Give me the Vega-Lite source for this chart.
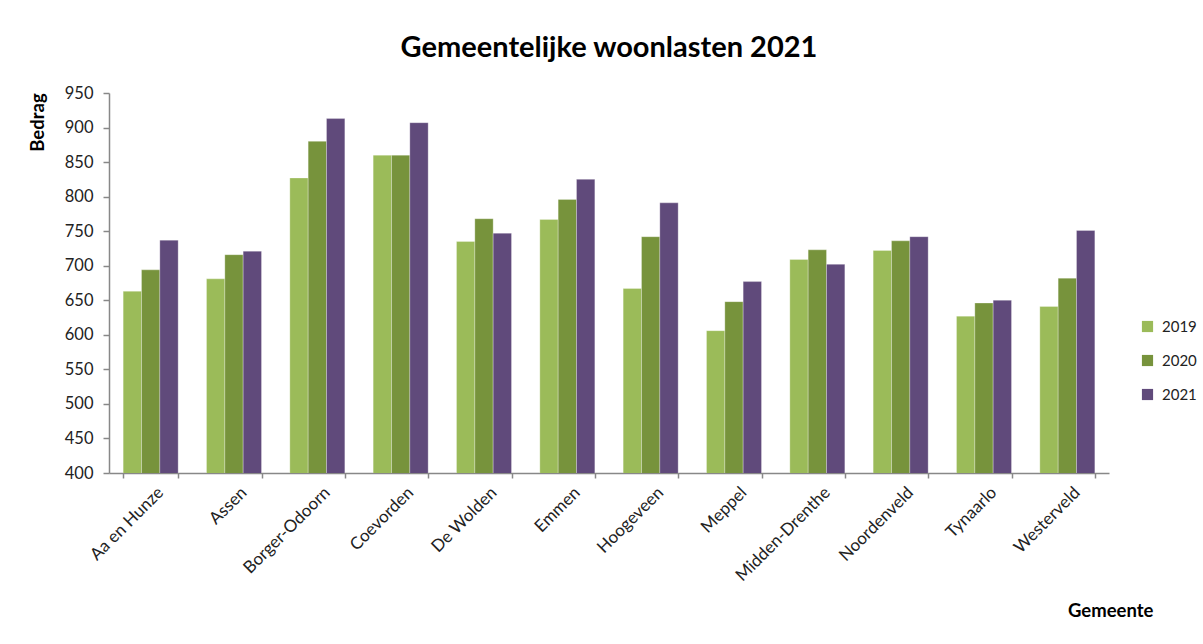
{
  "$schema": "https://vega.github.io/schema/vega-lite/v6.json",
  "autosize": "none",
  "width": 1000,
  "height": 380,
  "padding": {"left": 109, "top": 93, "right": 94, "bottom": 171},
  "background": "white",
  "title": {
    "text": "Gemeentelijke woonlasten 2021",
    "font": "Lato",
    "fontSize": 29,
    "fontWeight": "bold",
    "color": "#000000",
    "anchor": "middle",
    "offset": 22
  },
  "data": {
    "values": [
      {"gemeente": "Aa en Hunze", "jaar": "2019", "bedrag": 663},
      {"gemeente": "Aa en Hunze", "jaar": "2020", "bedrag": 694},
      {"gemeente": "Aa en Hunze", "jaar": "2021", "bedrag": 737},
      {"gemeente": "Assen", "jaar": "2019", "bedrag": 681},
      {"gemeente": "Assen", "jaar": "2020", "bedrag": 716},
      {"gemeente": "Assen", "jaar": "2021", "bedrag": 721},
      {"gemeente": "Borger-Odoorn", "jaar": "2019", "bedrag": 827},
      {"gemeente": "Borger-Odoorn", "jaar": "2020", "bedrag": 880},
      {"gemeente": "Borger-Odoorn", "jaar": "2021", "bedrag": 913},
      {"gemeente": "Coevorden", "jaar": "2019", "bedrag": 860},
      {"gemeente": "Coevorden", "jaar": "2020", "bedrag": 860},
      {"gemeente": "Coevorden", "jaar": "2021", "bedrag": 907},
      {"gemeente": "De Wolden", "jaar": "2019", "bedrag": 735},
      {"gemeente": "De Wolden", "jaar": "2020", "bedrag": 768},
      {"gemeente": "De Wolden", "jaar": "2021", "bedrag": 747},
      {"gemeente": "Emmen", "jaar": "2019", "bedrag": 767},
      {"gemeente": "Emmen", "jaar": "2020", "bedrag": 796},
      {"gemeente": "Emmen", "jaar": "2021", "bedrag": 825},
      {"gemeente": "Hoogeveen", "jaar": "2019", "bedrag": 667},
      {"gemeente": "Hoogeveen", "jaar": "2020", "bedrag": 742},
      {"gemeente": "Hoogeveen", "jaar": "2021", "bedrag": 791},
      {"gemeente": "Meppel", "jaar": "2019", "bedrag": 606},
      {"gemeente": "Meppel", "jaar": "2020", "bedrag": 648},
      {"gemeente": "Meppel", "jaar": "2021", "bedrag": 677},
      {"gemeente": "Midden-Drenthe", "jaar": "2019", "bedrag": 709},
      {"gemeente": "Midden-Drenthe", "jaar": "2020", "bedrag": 723},
      {"gemeente": "Midden-Drenthe", "jaar": "2021", "bedrag": 702},
      {"gemeente": "Noordenveld", "jaar": "2019", "bedrag": 722},
      {"gemeente": "Noordenveld", "jaar": "2020", "bedrag": 736},
      {"gemeente": "Noordenveld", "jaar": "2021", "bedrag": 742},
      {"gemeente": "Tynaarlo", "jaar": "2019", "bedrag": 627},
      {"gemeente": "Tynaarlo", "jaar": "2020", "bedrag": 646},
      {"gemeente": "Tynaarlo", "jaar": "2021", "bedrag": 650},
      {"gemeente": "Westerveld", "jaar": "2019", "bedrag": 641},
      {"gemeente": "Westerveld", "jaar": "2020", "bedrag": 682},
      {"gemeente": "Westerveld", "jaar": "2021", "bedrag": 751}
    ]
  },
  "mark": {"type": "bar", "clip": true, "stroke": "#ffffff", "strokeOpacity": 0.35, "strokeWidth": 0.8},
  "encoding": {
    "x": {
      "field": "gemeente",
      "type": "nominal",
      "sort": null,
      "scale": {"paddingInner": 0.34, "paddingOuter": 0.17},
      "axis": {
        "title": "Gemeente",
        "titleFont": "Lato",
        "titleFontSize": 18.5,
        "titleFontWeight": "bold",
        "titleColor": "#000000",
        "titleAlign": "right",
        "titleAnchor": null,
        "titleX": 1044,
        "titleY": 143,
        "titleBaseline": "alphabetic",
        "labelAngle": -45,
        "labelFont": "Lato",
        "labelFontSize": 17,
        "labelColor": "#222222",
        "labelPadding": 6,
        "labelOffset": 4,
        "domainColor": "#888888",
        "domainWidth": 1.5,
        "ticks": true,
        "tickColor": "#888888",
        "tickSize": 5,
        "tickWidth": 1.5,
        "tickBand": "extent",
        "grid": false
      }
    },
    "xOffset": {"field": "jaar", "type": "nominal"},
    "y": {
      "field": "bedrag",
      "type": "quantitative",
      "scale": {"domain": [400, 950], "zero": false, "nice": false},
      "axis": {
        "title": "Bedrag",
        "titleFont": "Lato",
        "titleFontSize": 18.5,
        "titleFontWeight": "bold",
        "titleColor": "#000000",
        "titleAngle": -90,
        "titleX": -62,
        "titleY": 29,
        "titleAlign": "center",
        "titleBaseline": "bottom",
        "values": [400, 450, 500, 550, 600, 650, 700, 750, 800, 850, 900, 950],
        "labelFont": "Lato",
        "labelFontSize": 16.5,
        "labelColor": "#222222",
        "labelPadding": 10,
        "domainColor": "#888888",
        "domainWidth": 1.5,
        "tickColor": "#888888",
        "tickSize": 6,
        "tickWidth": 1.5,
        "grid": false
      }
    },
    "color": {
      "field": "jaar",
      "type": "nominal",
      "scale": {"domain": ["2019", "2020", "2021"], "range": ["#9BBB59", "#77933C", "#604A7B"]},
      "legend": {
        "title": null,
        "orient": "none",
        "legendX": 1031,
        "legendY": 226,
        "symbolType": "square",
        "symbolSize": 125,
        "symbolStrokeWidth": 0,
        "labelFont": "Lato",
        "labelFontSize": 15,
        "labelColor": "#222222",
        "rowPadding": 18,
        "labelOffset": 7
      }
    }
  },
  "config": {
    "view": {"stroke": null},
    "axis": {"labelOverlap": false}
  }
}
